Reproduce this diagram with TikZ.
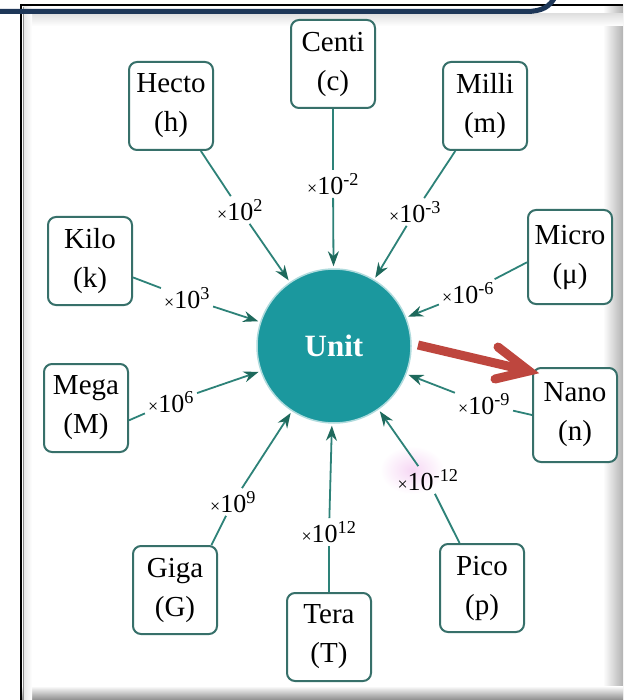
\documentclass[tikz,border=0pt]{standalone}
\usepackage{fontspec}
\setmainfont{Liberation Serif}
\usetikzlibrary{arrows.meta}
\definecolor{navy}{RGB}{30,55,88}
\definecolor{tealline}{RGB}{45,130,120}
\definecolor{tealhead}{RGB}{30,105,92}
\definecolor{boxedge}{RGB}{55,112,106}
\definecolor{unitfill}{RGB}{27,152,158}
\definecolor{redarr}{RGB}{190,70,62}
\newcommand{\tmul}{{\fontsize{18}{18}\selectfont ×}}
\begin{document}
\begin{tikzpicture}[x=1pt,y=-1pt,
  unitbox/.style={draw=boxedge, line width=2pt, rounded corners=8pt, fill=white,
    minimum width=84pt, minimum height=88pt, inner sep=0pt, align=center,
    font=\fontsize{29}{39}\selectfont},
  lbl/.style={font=\fontsize{26}{26}\selectfont, inner sep=3pt},
  conn/.style={draw=tealline, line width=1.8pt},
  arr/.style={conn, -{Stealth[length=15pt,width=11pt,color=tealhead]}, shorten >=2pt},
  redline/.style={draw=redarr, line width=9pt}]
\useasboundingbox (0,0) rectangle (623,700);
\fill[white] (0,0) rectangle (623,700);
% frame shadows
\shade[left color=white, right color=black!30] (603,5) rectangle (623,700);
\shade[top color=white, bottom color=black!45] (21,686) rectangle (623,700);
\shade[top color=black!12, bottom color=white] (23,14) rectangle (623,26);
\shade[left color=black!10, right color=white] (23,5) rectangle (32,700);
% frame lines
\draw[black, line width=2.5pt] (21,4) -- (21,700);
\draw[black!45, line width=1.2pt] (23.5,7) -- (23.5,700);
\draw[black, line width=2pt] (20,5) -- (623,5);
\draw[navy, line width=5pt] (0,11.5) -- (526,11.5) .. controls (543,11.5) and (550,6) .. (555,-3);
% pink smudge
\shade[inner color={rgb,255:red,246;green,215;blue,244}, outer color=white] (412,470) ellipse (32pt and 24pt);
% unit
\node[circle, fill=unitfill, draw=unitfill!35, line width=1.5pt, minimum size=154pt, inner sep=0pt,
  text=white, font=\fontsize{31}{31}\selectfont\bfseries] (unit) at (334,346) {Unit};
% boxes
\node[unitbox] (centi) at (333,64) {Centi\\(c)};
\node[unitbox] (hecto) at (171,106) {Hecto\\(h)};
\node[unitbox] (milli) at (485,106) {Milli\\(m)};
\node[unitbox] (kilo) at (90,261) {Kilo\\(k)};
\node[unitbox, minimum height=94pt] (micro) at (570,257) {Micro\\(μ)};
\node[unitbox] (mega) at (86,408) {Mega\\(M)};
\node[unitbox, minimum height=94pt] (nano) at (575,415) {Nano\\(n)};
\node[unitbox] (giga) at (175,590) {Giga\\(G)};
\node[unitbox] (pico) at (482,588) {Pico\\(p)};
\node[unitbox] (tera) at (329,637) {Tera\\(T)};
% labels
\node[lbl] (lc) at (333,184) {\tmul10\textsuperscript{-2}};
\node[lbl] (lh) at (240,210) {\tmul10\textsuperscript{2}};
\node[lbl] (lm) at (415,212) {\tmul10\textsuperscript{-3}};
\node[lbl] (lk) at (187,298) {\tmul10\textsuperscript{3}};
\node[lbl] (lmu) at (468,293) {\tmul10\textsuperscript{-6}};
\node[lbl] (lM) at (171,402) {\tmul10\textsuperscript{6}};
\node[lbl] (ln) at (484,404) {\tmul10\textsuperscript{-9}};
\node[lbl] (lG) at (233,502) {\tmul10\textsuperscript{9}};
\node[lbl] (lT) at (329,532) {\tmul10\textsuperscript{12}};
\node[lbl] (lp) at (428,480) {\tmul10\textsuperscript{-12}};
% connectors
\draw[conn] (centi) -- (lc);   \draw[arr] (lc) -- (unit);
\draw[conn] (hecto) -- (lh);   \draw[arr] (lh) -- (unit);
\draw[conn] (milli) -- (lm);   \draw[arr] (lm) -- (unit);
\draw[conn] (kilo) -- (lk);    \draw[arr] (lk) -- (unit);
\draw[conn] (micro.187) -- (lmu); \draw[arr] (lmu) -- (unit);
\draw[conn] (mega.-16) -- (lM); \draw[arr] (lM) -- (unit);
\draw[conn] (nano.west) -- (ln); \draw[arr] (ln) -- (unit);
\draw[conn] (giga.51) -- (lG);  \draw[arr] (lG) -- (unit);
\draw[conn] (tera) -- (lT);    \draw[arr] (lT) -- (unit);
\draw[conn] (pico) -- (lp);    \draw[arr] (lp) -- (unit);
% red arrow
\coordinate (rs) at (418,345);
\coordinate (re) at (529,371);
\coordinate (ra1) at (498,347);
\coordinate (ra2) at (495,379);
\draw[redline, shorten >=6pt] (rs) -- (re);
\draw[redline, line cap=round, line join=miter] (ra1) -- (re) -- (ra2);
\end{tikzpicture}
\end{document}
